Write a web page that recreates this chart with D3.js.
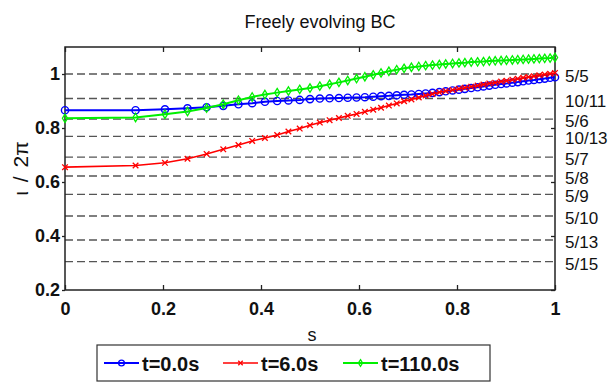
<!DOCTYPE html>
<html><head><meta charset="utf-8">
<script src="https://cdn.jsdelivr.net/npm/d3@7"></script>
<style>
body{margin:0;background:#fff;}
svg{display:block;font-family:"Liberation Sans",Arial,Helvetica,sans-serif;}
</style></head>
<body><svg id="c" width="616" height="382"></svg>
<script>
const title = "Freely evolving BC";
const xLabel = "s";
const yLabel = "ι / 2π";
const seriesNames = ["t=0.0s", "t=6.0s", "t=110.0s"];
const sValues = [0, 0.144, 0.204, 0.250, 0.289, 0.323, 0.354, 0.382, 0.408, 0.433, 0.456, 0.479, 0.500, 0.520, 0.540, 0.559, 0.577, 0.595, 0.612, 0.629, 0.645, 0.661, 0.677, 0.692, 0.707, 0.722, 0.736, 0.750, 0.764, 0.777, 0.791, 0.804, 0.816, 0.829, 0.842, 0.854, 0.866, 0.878, 0.890, 0.901, 0.913, 0.924, 0.935, 0.946, 0.957, 0.968, 0.979, 0.990, 1.000];
const iotaT0 = [0.866,0.866,0.869,0.873,0.877,0.882,0.888,0.892,0.897,0.900,0.902,0.904,0.907,0.909,0.910,0.911,0.912,0.913,0.914,0.916,0.918,0.919,0.921,0.923,0.924,0.926,0.928,0.930,0.933,0.936,0.939,0.942,0.945,0.948,0.951,0.954,0.957,0.960,0.963,0.965,0.968,0.970,0.973,0.976,0.978,0.981,0.983,0.986,0.988];
const iotaT6 = [0.655,0.661,0.671,0.686,0.704,0.721,0.737,0.752,0.763,0.774,0.787,0.798,0.810,0.820,0.829,0.837,0.845,0.852,0.860,0.868,0.875,0.883,0.891,0.899,0.906,0.913,0.920,0.926,0.932,0.937,0.941,0.945,0.949,0.953,0.957,0.961,0.965,0.968,0.972,0.975,0.979,0.982,0.986,0.989,0.992,0.995,0.998,1.001,1.004];
const iotaT110 = [0.836,0.839,0.851,0.861,0.874,0.888,0.903,0.915,0.924,0.931,0.937,0.943,0.948,0.955,0.962,0.969,0.976,0.983,0.990,0.997,1.004,1.010,1.016,1.021,1.025,1.028,1.031,1.033,1.035,1.037,1.039,1.041,1.042,1.044,1.045,1.046,1.048,1.049,1.050,1.051,1.052,1.053,1.054,1.055,1.056,1.057,1.058,1.059,1.061];
const rationalLabels = ["5/5","10/11","5/6","10/13","5/7","5/8","5/9","5/10","5/13","5/15"];
const rationalValues = [1.0, 0.909, 0.833, 0.769, 0.692, 0.622, 0.554, 0.474, 0.385, 0.305];
const xTicks = [0, 0.2, 0.4, 0.6, 0.8, 1];
const yTicks = [0.2, 0.4, 0.6, 0.8, 1];

const svg = d3.select("#c");
const L = 65, R = 555, T = 47, B = 290;
const x = d3.scaleLinear().domain([0, 1]).range([L, R]);
const y = d3.scaleLinear().domain([0.2, 1.1]).range([B, T]);

// title
svg.append("text").attr("x", 320).attr("y", 28).attr("text-anchor", "middle")
  .attr("font-size", 18).attr("fill", "#111").text(title);

// rational dashed lines
const rg = svg.append("g");
rg.selectAll("line").data(rationalValues).join("line")
  .attr("x1", L).attr("x2", R).attr("y1", d => y(d)).attr("y2", d => y(d))
  .attr("stroke", "#555").attr("stroke-width", 1.4).attr("stroke-dasharray", "8,4");
rg.selectAll("text").data(rationalValues).join("text")
  .attr("x", 565).attr("y", d => y(d) + 8).attr("font-size", 17).attr("fill", "#111")
  .text((d, i) => rationalLabels[i]);

// axes box
svg.append("rect").attr("x", L).attr("y", T).attr("width", R - L).attr("height", B - T)
  .attr("fill", "none").attr("stroke", "#222").attr("stroke-width", 1.5);

const axB = d3.axisBottom(x).tickValues(xTicks).tickSize(-5).tickPadding(12).tickFormat(d3.format("~g"));
const axT = d3.axisTop(x).tickValues(xTicks).tickSize(-5).tickFormat("");
const axL = d3.axisLeft(y).tickValues(yTicks).tickSize(3).tickPadding(2).tickFormat(d3.format("~g"));
const axR = d3.axisRight(y).tickValues(yTicks).tickSize(-4).tickFormat("");
function styleAx(g) {
  g.select(".domain").remove();
  g.selectAll(".tick line").attr("stroke", "#222").attr("stroke-width", 1.3);
  g.selectAll(".tick text").attr("font-size", 18).attr("font-weight", "bold").attr("fill", "#111")
    .attr("font-family", "'Liberation Sans',Arial,sans-serif");
}
svg.append("g").attr("transform", `translate(0,${B})`).call(axB).call(styleAx);
svg.append("g").attr("transform", `translate(0,${T})`).call(axT).call(styleAx);
svg.append("g").attr("transform", `translate(${L},0)`).call(axL).call(styleAx);
svg.append("g").attr("transform", `translate(${R},0)`).call(axR).call(styleAx);

// axis labels
svg.append("text").attr("x", 312).attr("y", 341).attr("text-anchor", "middle")
  .attr("font-size", 18).attr("fill", "#111").text(xLabel);
svg.append("text").attr("transform", `translate(28,${(T + B) / 2}) rotate(-90)`)
  .attr("text-anchor", "middle").attr("font-size", 21).attr("fill", "#111")
  .attr("word-spacing", 3).text(yLabel);

// series
const series = [
  {name: seriesNames[0], vals: iotaT0, color: "#0000ff", marker: "circle", w: 2},
  {name: seriesNames[1], vals: iotaT6, color: "#ff0000", marker: "x", w: 1.6},
  {name: seriesNames[2], vals: iotaT110, color: "#00f000", marker: "diamond", w: 2}
];
const line = d3.line().x(d => x(d[0])).y(d => y(d[1]));
function drawMarker(g, type, color, big) {
  const k = big ? 1 : 0.8;
  if (type === "circle") {
    g.append("circle").attr("r", 3.6 * k).attr("fill", "none").attr("stroke", color).attr("stroke-width", 1.4);
  } else if (type === "x") {
    const s = 2.8 * k;
    g.append("path").attr("d", `M${-s},${-s}L${s},${s}M${-s},${s}L${s},${-s}`)
      .attr("stroke", color).attr("stroke-width", 1.3).attr("fill", "none");
  } else {
    const a = 2.6 * k, b = 4.2 * k;
    g.append("path").attr("d", `M0,${-b}L${a},0L0,${b}L${-a},0Z`)
      .attr("stroke", color).attr("stroke-width", 1.3).attr("fill", "none");
  }
}
series.forEach(s => {
  const pts = sValues.map((v, i) => [v, s.vals[i]]);
  const g = svg.append("g");
  g.append("path").datum(pts).attr("d", line).attr("fill", "none")
    .attr("stroke", s.color).attr("stroke-width", s.w);
  pts.forEach(p => {
    const m = g.append("g").attr("transform", `translate(${x(p[0])},${y(p[1])})`);
    drawMarker(m, s.marker, s.color, true);
  });
});

// legend
const lg = svg.append("g");
lg.append("rect").attr("x", 97).attr("y", 345).attr("width", 393).attr("height", 36)
  .attr("fill", "#fff").attr("stroke", "#333").attr("stroke-width", 1.2);
const legX = [104, 223, 343];
series.forEach((s, i) => {
  const x0 = legX[i];
  lg.append("line").attr("x1", x0).attr("x2", x0 + 35).attr("y1", 363).attr("y2", 363)
    .attr("stroke", s.color).attr("stroke-width", s.w);
  const m = lg.append("g").attr("transform", `translate(${x0 + 17.5},363)`);
  drawMarker(m, s.marker, s.color, false);
  lg.append("text").attr("x", x0 + 38).attr("y", 370.5).attr("font-size", 20)
    .attr("font-weight", "bold").attr("fill", "#111").text(s.name);
});
</script></body></html>
